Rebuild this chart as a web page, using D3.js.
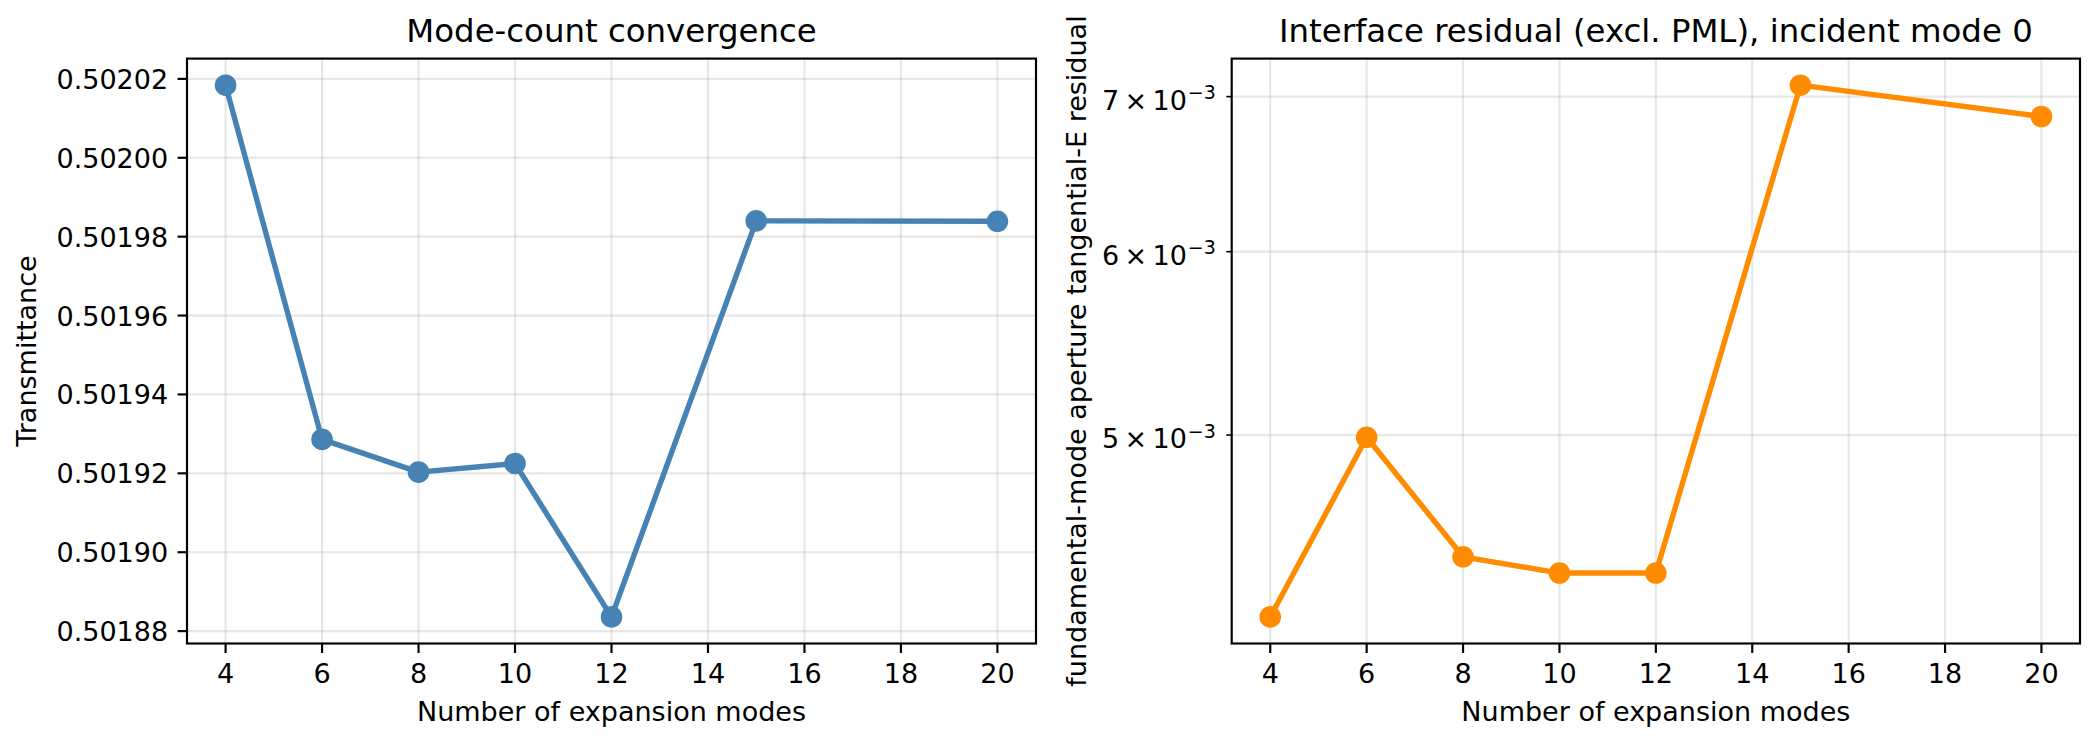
<!DOCTYPE html>
<html>
<head>
<meta charset="utf-8">
<script src="https://cdn.jsdelivr.net/npm/d3@7"></script>
<style>
  html, body { margin: 0; padding: 0; background: #fff; }
  svg { display: block; font-family: "DejaVu Sans", sans-serif; }
</style>
</head>
<body>
<svg id="chart" width="2100" height="747"></svg>
<script>
// ---- data ----
const modes = [4, 6, 8, 10, 12, 15, 20];
const transmittance = [0.5020184, 0.5019286, 0.5019203, 0.5019225, 0.5018836, 0.5019840, 0.5019839];
const residual = [4.173e-3, 4.989e-3, 4.430e-3, 4.359e-3, 4.359e-3, 7.080e-3, 6.863e-3];
const xTicks = [4, 6, 8, 10, 12, 14, 16, 18, 20];
const leftYTicks = [0.50188, 0.50190, 0.50192, 0.50194, 0.50196, 0.50198, 0.50200, 0.50202];
const rightYTicks = [5e-3, 6e-3, 7e-3];
const rightYTickMantissa = ["5", "6", "7"];
const titles = ["Mode-count convergence", "Interface residual (excl. PML), incident mode 0"];
const xLabel = "Number of expansion modes";
const yLabels = ["Transmittance", "fundamental-mode aperture tangential-E residual"];

// ---- styling ----
const FS = 27, TFS = 32.4;
const LW = 5.4, MR = 10.8, SPW = 2.16, TL = 9.45, PAD = 9.45;
const gridColor = "rgba(176,176,176,0.3)";
const svg = d3.select("#chart");

const axTop = 58.6, axBottom = 643.5;
const panels = [
  {x0: 187, x1: 1036, color: "#4682b4", data: transmittance, log: false, ylabX: 35.5},
  {x0: 1231.7, x1: 2080, color: "#ff8c00", data: residual, log: true, ylabX: 1085.7}
];

function marginDomain(vals, log) {
  const f = log ? Math.log10 : (v => v);
  const inv = log ? (v => Math.pow(10, v)) : (v => v);
  const lo = f(d3.min(vals)), hi = f(d3.max(vals));
  const m = (hi - lo) * 0.05;
  return [inv(lo - m), inv(hi + m)];
}

panels.forEach((p, i) => {
  const xs = d3.scaleLinear().domain([3.2, 20.8]).range([p.x0, p.x1]);
  const ys = (p.log ? d3.scaleLog() : d3.scaleLinear())
    .domain(marginDomain(p.data, p.log)).range([axBottom, axTop]);
  const g = svg.append("g");

  const yTickVals = p.log ? rightYTicks : leftYTicks;

  // grid
  g.append("g").selectAll("line").data(xTicks).join("line")
    .attr("x1", d => xs(d)).attr("x2", d => xs(d))
    .attr("y1", axTop).attr("y2", axBottom)
    .attr("stroke", gridColor).attr("stroke-width", 2.16);
  g.append("g").selectAll("line").data(yTickVals).join("line")
    .attr("x1", p.x0).attr("x2", p.x1)
    .attr("y1", d => ys(d)).attr("y2", d => ys(d))
    .attr("stroke", gridColor).attr("stroke-width", 2.16);

  // line + markers
  const pts = modes.map((m, k) => [m, p.data[k]]);
  g.append("path").datum(pts)
    .attr("d", d3.line().x(d => xs(d[0])).y(d => ys(d[1])))
    .attr("fill", "none").attr("stroke", p.color)
    .attr("stroke-width", LW).attr("stroke-linejoin", "round");
  g.append("g").selectAll("circle").data(pts).join("circle")
    .attr("cx", d => xs(d[0])).attr("cy", d => ys(d[1]))
    .attr("r", MR).attr("fill", p.color);

  // spines
  g.append("rect").attr("x", p.x0).attr("y", axTop)
    .attr("width", p.x1 - p.x0).attr("height", axBottom - axTop)
    .attr("fill", "none").attr("stroke", "#000").attr("stroke-width", SPW);

  // x ticks
  const xt = g.append("g").selectAll("g").data(xTicks).join("g")
    .attr("transform", d => `translate(${xs(d)},${axBottom})`);
  xt.append("line").attr("y1", 0).attr("y2", TL).attr("stroke", "#000").attr("stroke-width", SPW);
  xt.append("text").attr("y", 683 - axBottom).attr("text-anchor", "middle")
    .attr("font-size", FS).attr("fill", "#000").text(d => d);

  // y ticks
  if (!p.log) {
    const yt = g.append("g").selectAll("g").data(yTickVals).join("g")
      .attr("transform", d => `translate(${p.x0},${ys(d)})`);
    yt.append("line").attr("x1", 0).attr("x2", -TL).attr("stroke", "#000").attr("stroke-width", SPW);
    yt.append("text").attr("x", -TL - PAD).attr("y", 10).attr("text-anchor", "end")
      .attr("font-size", FS).attr("fill", "#000").text(d => d3.format(".5f")(d));
  } else {
    const yt = g.append("g").selectAll("g").data(yTickVals).join("g")
      .attr("transform", d => `translate(${p.x0},${ys(d)})`);
    yt.append("line").attr("x1", 0).attr("x2", -5.4).attr("stroke", "#000").attr("stroke-width", 1.62);
    const t = yt.append("text").attr("x", -5.4 - PAD - 1).attr("y", 13).attr("text-anchor", "end")
      .attr("font-size", FS).attr("fill", "#000");
    t.append("tspan").text((d, k) => rightYTickMantissa[k] + "\u2009×\u200910");
    t.append("tspan").attr("font-size", 19).attr("dy", -10.5).attr("dx", 1).text("\u22123");
  }

  // title
  g.append("text").attr("x", (p.x0 + p.x1) / 2).attr("y", 42)
    .attr("text-anchor", "middle").attr("font-size", TFS).attr("fill", "#000").text(titles[i]);
  // x label
  g.append("text").attr("x", (p.x0 + p.x1) / 2).attr("y", 721)
    .attr("text-anchor", "middle").attr("font-size", FS).attr("fill", "#000").text(xLabel);
  // y label
  g.append("text")
    .attr("transform", `translate(${p.ylabX},${(axTop + axBottom) / 2}) rotate(-90)`)
    .attr("text-anchor", "middle").attr("font-size", FS).attr("fill", "#000").text(yLabels[i]);
});
</script>
</body>
</html>
